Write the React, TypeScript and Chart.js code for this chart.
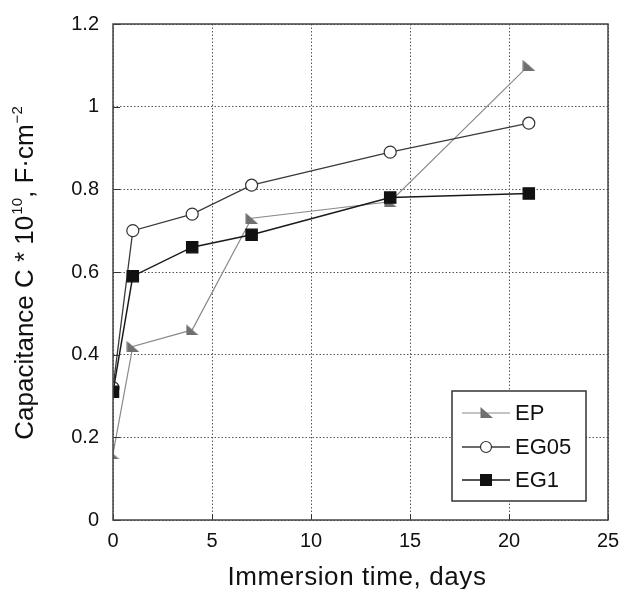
import React, { useEffect, useRef } from 'react';
import { Chart, registerables } from 'chart.js';

Chart.register(...registerables);

const days = [0, 1, 4, 7, 14, 21];
const epValues = [0.16, 0.42, 0.46, 0.73, 0.77, 1.1];
const eg05Values = [0.32, 0.7, 0.74, 0.81, 0.89, 0.96];
const eg1Values = [0.31, 0.59, 0.66, 0.69, 0.78, 0.79];
const seriesNames = ['EP', 'EG05', 'EG1'];
const xTitle = 'Immersion time, days';
const yTitleParts = ['Capacitance C * 10', '10', ', F·cm', '−2'];

const FONT = '"Liberation Sans", Arial, Helvetica, sans-serif';

function makeTriangle(w: number, h: number, color: string) {
  const c = document.createElement('canvas');
  c.width = w;
  c.height = h;
  const ctx = c.getContext('2d')!;
  ctx.fillStyle = color;
  ctx.beginPath();
  ctx.moveTo(0.5, 0);
  ctx.lineTo(0.5, h);
  ctx.lineTo(w, h);
  ctx.closePath();
  ctx.fill();
  return c;
}

export default function App() {
  const ref = useRef<HTMLCanvasElement | null>(null);

  useEffect(() => {
    document.body.style.margin = '0';
    const canvas = ref.current!;
    const tri = makeTriangle(13, 11, '#6f6f6f');

    const styles = [
      { line: '#8a8a8a', width: 1.2, point: tri as any, radius: 6, fill: '#6f6f6f', stroke: '#6f6f6f' },
      { line: '#3a3a3a', width: 1.3, point: 'circle', radius: 6, fill: '#ffffff', stroke: '#333333' },
      { line: '#1a1a1a', width: 1.5, point: 'rect', radius: 8, fill: '#111111', stroke: '#111111' },
    ];
    const values = [epValues, eg05Values, eg1Values];

    const framePlugin = {
      id: 'frame',
      afterDraw(chart: any) {
        const { ctx, chartArea: a, scales } = chart;
        ctx.save();
        // inner ticks
        ctx.strokeStyle = '#333';
        ctx.lineWidth = 1;
        ctx.setLineDash([]);
        ctx.beginPath();
        scales.x.ticks.forEach((t: any) => {
          const px = Math.round(scales.x.getPixelForValue(t.value)) + 0.5;
          ctx.moveTo(px, a.bottom);
          ctx.lineTo(px, a.bottom - 6);
        });
        scales.y.ticks.forEach((t: any) => {
          const py = Math.round(scales.y.getPixelForValue(t.value)) + 0.5;
          ctx.moveTo(a.left, py);
          ctx.lineTo(a.left + 7, py);
        });
        ctx.stroke();
        // frame
        ctx.strokeStyle = '#444';
        ctx.lineWidth = 1.5;
        ctx.strokeRect(a.left, a.top, a.right - a.left, a.bottom - a.top);

        // legend
        const lx = 452, ly = 391, lw = 134, lh = 110;
        ctx.fillStyle = '#fff';
        ctx.fillRect(lx, ly, lw, lh);
        ctx.strokeStyle = '#333';
        ctx.lineWidth = 1.5;
        ctx.strokeRect(lx, ly, lw, lh);
        const rows = [413, 447, 480];
        rows.forEach((ry, i) => {
          const s = styles[i];
          ctx.strokeStyle = s.line;
          ctx.lineWidth = s.width;
          ctx.beginPath();
          ctx.moveTo(462, ry);
          ctx.lineTo(510, ry);
          ctx.stroke();
          if (i === 0) {
            ctx.drawImage(tri, 486 - 6, ry - 6);
          } else if (i === 1) {
            ctx.beginPath();
            ctx.arc(486, ry, 5.5, 0, Math.PI * 2);
            ctx.fillStyle = '#fff';
            ctx.fill();
            ctx.strokeStyle = '#333';
            ctx.lineWidth = 1.2;
            ctx.stroke();
          } else {
            ctx.fillStyle = '#111';
            ctx.fillRect(480, ry - 6, 12, 12);
          }
          ctx.fillStyle = '#111';
          ctx.font = `22px ${FONT}`;
          ctx.textBaseline = 'middle';
          ctx.textAlign = 'left';
          ctx.fillText(seriesNames[i], 515, ry + 1);
        });

        // x title
        ctx.fillStyle = '#111';
        ctx.font = `26px ${FONT}`;
        (ctx as any).letterSpacing = '0.6px';
        ctx.textAlign = 'center';
        ctx.textBaseline = 'alphabetic';
        ctx.fillText(xTitle, 357, 585);
        (ctx as any).letterSpacing = '0px';

        // y title with superscripts
        const big = `26px ${FONT}`;
        const small = `15px ${FONT}`;
        const parts = yTitleParts.map((t, i) => ({ t, sup: i % 2 === 1 }));
        let total = 0;
        parts.forEach((p) => {
          ctx.font = p.sup ? small : big;
          total += ctx.measureText(p.t).width + (p.sup ? 1 : 0);
        });
        ctx.translate(33, 273);
        ctx.rotate(-Math.PI / 2);
        ctx.textAlign = 'left';
        let x = -total / 2;
        parts.forEach((p) => {
          ctx.font = p.sup ? small : big;
          ctx.fillText(p.t, x + (p.sup ? 1 : 0), p.sup ? -11 : 0);
          x += ctx.measureText(p.t).width + (p.sup ? 1 : 0);
        });
        ctx.restore();
      },
    };

    const chart = new Chart(canvas, {
      type: 'line',
      data: {
        datasets: seriesNames.map((name, i) => ({
          label: name,
          data: days.map((d, j) => ({ x: d, y: values[i][j] })),
          borderColor: styles[i].line,
          borderWidth: styles[i].width,
          pointStyle: styles[i].point,
          pointRadius: styles[i].radius,
          pointBackgroundColor: styles[i].fill,
          pointBorderColor: styles[i].stroke,
          pointBorderWidth: 1.2,
          tension: 0,
          fill: false,
          order: 3 - i,
        })),
      },
      options: {
        animation: false,
        responsive: false,
        maintainAspectRatio: false,
        layout: { padding: { top: 24, right: 0, left: 0, bottom: 0 } },
        plugins: { legend: { display: false }, tooltip: { enabled: false }, title: { display: false } },
        scales: {
          x: {
            type: 'linear',
            min: 0,
            max: 25,
            ticks: { stepSize: 5, color: '#111', font: { size: 20, family: FONT }, padding: 9, maxRotation: 0 },
            grid: { color: '#555', lineWidth: 1, drawTicks: false } as any,
            border: { display: false, dash: [1.5, 2] },
            afterFit: (s: any) => { s.height = 69; s.paddingRight = 12; s.paddingLeft = 0; },
          },
          y: {
            type: 'linear',
            min: 0,
            max: 1.2,
            ticks: { stepSize: 0.2, color: '#111', font: { size: 20, family: FONT }, padding: 14,
              callback: (v: any) => String(Math.round(Number(v) * 10) / 10) },
            grid: { color: '#555', lineWidth: 1, drawTicks: false } as any,
            border: { display: false, dash: [1.5, 2] },
            afterFit: (s: any) => { s.width = 113; s.paddingTop = 0; s.paddingBottom = 0; },
          },
        },
      },
      plugins: [framePlugin],
    });
    return () => chart.destroy();
  }, []);

  return (
    <div style={{ position: 'absolute', left: 0, top: 0, width: 620, height: 589 }}>
      <canvas ref={ref} width={620} height={589} style={{ width: 620, height: 589 }} />
    </div>
  );
}
